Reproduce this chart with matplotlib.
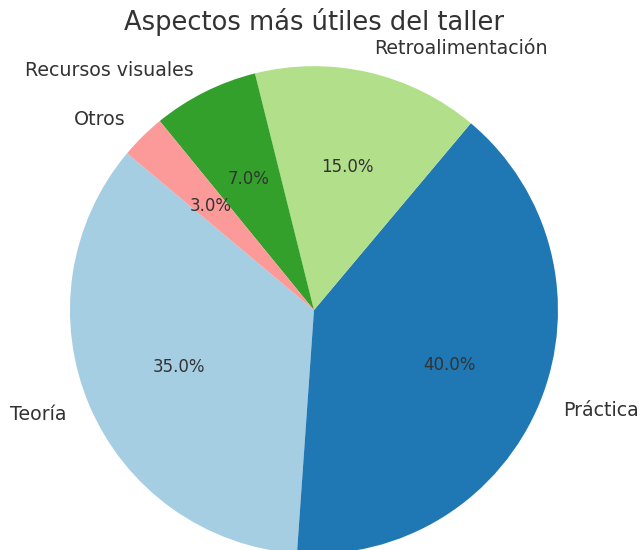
import matplotlib
matplotlib.use("Agg")
import matplotlib.pyplot as plt

categories = ["Teoría", "Práctica", "Retroalimentación", "Recursos visuales", "Otros"]
values = [35, 40, 15, 7, 3]
colors = ["#a6cee3", "#1f78b4", "#b2df8a", "#33a02c", "#fb9a99"]
title = "Aspectos más útiles del taller"

fig = plt.figure(figsize=(6.39, 5.5), dpi=100)
ax = fig.add_axes([0.1095, -0.0073, 0.7637, 0.887])
wedges, texts, autotexts = ax.pie(values, labels=categories, colors=colors,
                                  autopct="%1.1f%%", startangle=140,
                                  textprops={"color": "#333333", "fontsize": 13.7})
for t in autotexts:
    t.set_fontsize(12)
ax.set_xlim(-1, 1)
ax.set_ylim(-1, 1)
ax.set_aspect("auto")
fig.text(0.491, 0.96, title, ha="center", va="center", fontsize=18.5, color="#333333")
fig.savefig("out.png", dpi=100)
